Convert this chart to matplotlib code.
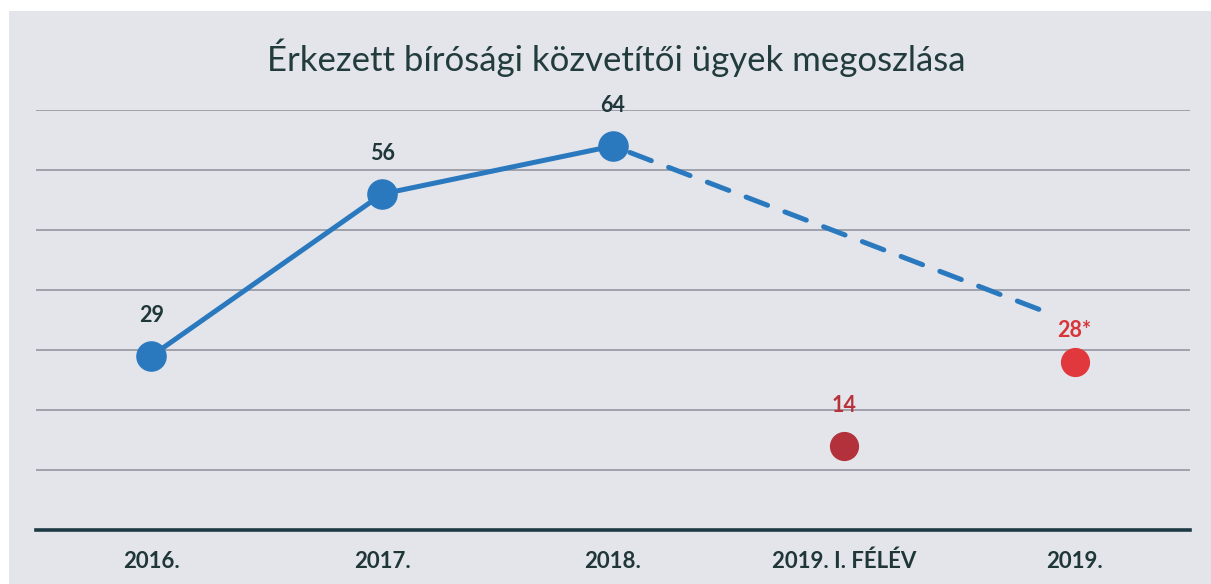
import numpy as np
import matplotlib
matplotlib.use("Agg")
import matplotlib.pyplot as plt
from matplotlib.patches import Rectangle

# data
categories = ["2016.", "2017.", "2018.", "2019. I. FÉLÉV", "2019."]
cases_full_year = [29, 56, 64]          # 2016-2018, blue solid line
half_year_2019 = 14                     # 2019 I. félév, dark red point
estimate_2019 = 28                      # 2019 estimate, red point
trend_end_2019 = 34.5                   # where the dashed trend line points
label_estimate = "28*"

title = "Érkezett bírósági közvetítői ügyek megoszlása"

blue = "#2a79bf"
dark_red = "#b3313b"
red = "#e0383c"
text_dark = "#1f3739"

plt.rcParams["font.family"] = ["Lato", "DejaVu Sans"]

fig = plt.figure(figsize=(12.11, 5.84), dpi=100)
fig.patch.set_facecolor("white")
# scanned paper background
fig.patches.append(Rectangle((9 / 1211, 0), 1 - 9 / 1211, 1 - 11 / 584,
                             transform=fig.transFigure, facecolor="#e3e5ea",
                             edgecolor="none", zorder=-10))

ax = fig.add_axes([36 / 1211, 1 - 530 / 584, (1190 - 36) / 1211, (530 - 110) / 584])
ax.set_facecolor("none")

x = np.arange(len(categories))

# gridlines
ax.set_ylim(0, 70)
ax.set_xlim(-0.5, len(categories) - 0.5)
ax.set_yticks(np.arange(10, 71, 10))
ax.yaxis.grid(True, color="#8c9098", linewidth=1.1)
ax.set_axisbelow(True)
ax.tick_params(axis="y", length=0, labelleft=False)
ax.tick_params(axis="x", length=0, pad=15)
for s in ["top", "left", "right"]:
    ax.spines[s].set_visible(False)
ax.spines["bottom"].set_color("#1d3a44")
ax.spines["bottom"].set_linewidth(2.6)

ax.set_xticks(x)
ax.set_xticklabels(categories, fontsize=16, fontweight="bold", color=text_dark)

# solid line 2016-2018
xs = x[:len(cases_full_year)]
ax.plot(xs, cases_full_year, color=blue, linewidth=3.6, marker="o",
        markersize=21, zorder=3)

# dashed trend from 2018 toward 2019
ax.annotate("", xy=(x[4], trend_end_2019), xytext=(x[2], cases_full_year[2]),
            arrowprops=dict(arrowstyle="-", color=blue, linewidth=3.6,
                            linestyle=(0, (4.6, 3.7)), shrinkA=13, shrinkB=23),
            zorder=2)

# 2019 points
ax.plot(x[3], half_year_2019, marker="o", markersize=20, color=dark_red,
        linestyle="none", zorder=3)
ax.plot(x[4], estimate_2019, marker="o", markersize=20, color=red,
        linestyle="none", zorder=3)

# value labels
for xi, v in zip(xs, cases_full_year):
    ax.annotate(str(v), (xi, v), xytext=(0, 29.5), textcoords="offset points",
                ha="center", va="center", fontsize=15.5, fontweight="bold",
                color=text_dark)
ax.annotate(str(half_year_2019), (x[3], half_year_2019), xytext=(0, 29.5),
            textcoords="offset points", ha="center", va="center",
            fontsize=15.5, fontweight="bold", color="#b8323c")
ax.annotate(label_estimate, (x[4], estimate_2019), xytext=(0, 23),
            textcoords="offset points", ha="center", va="center",
            fontsize=15.5, fontweight="bold", color="#d8353a")

fig.text(616 / 1211, 1 - 58 / 584, title, ha="center", va="center",
         fontsize=25, color="#223c3e")

fig.savefig("out.png", dpi=100)
